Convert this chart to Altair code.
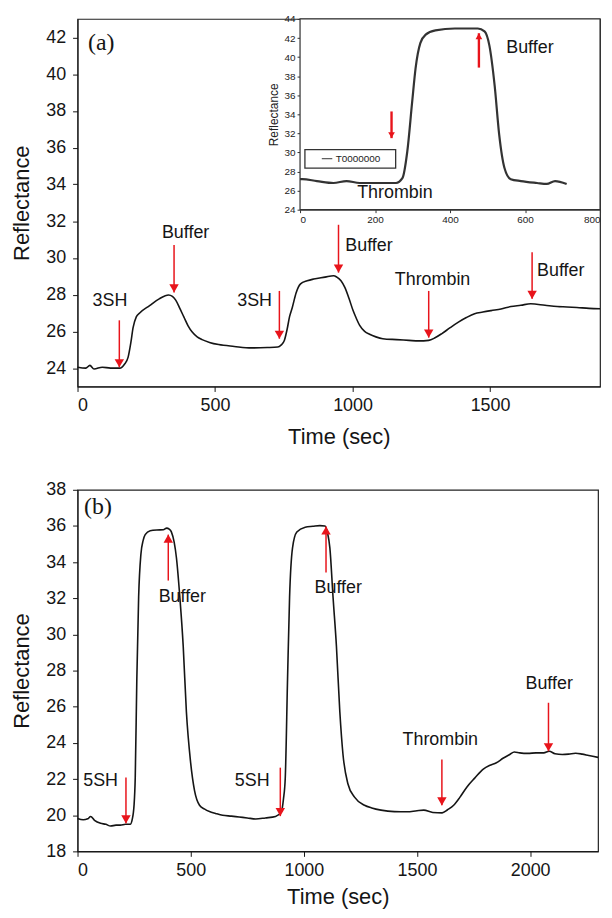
import altair as alt
import pandas as pd

FONT = "Liberation Sans"
RED = "#e8141b"
INK = "#151515"

# ---------------- Panel (a): main trace ----------------
a_time = [0, 30, 45, 60, 90, 120, 154, 170, 184, 194, 202, 214, 226, 262, 297, 331, 345,
          357, 372, 387, 402, 417, 435, 453, 480, 513, 570, 632, 690, 728, 740, 752, 762,
          771, 781, 795, 811, 835, 859, 900, 931, 943, 958, 972, 987, 1002, 1014, 1026,
          1044, 1062, 1085, 1110, 1160, 1205, 1240, 1277, 1300, 1325, 1355, 1385, 1414,
          1444, 1474, 1504, 1540, 1576, 1612, 1648, 1700, 1744, 1780, 1816, 1860, 1900]
a_refl = [24.05, 24.0, 24.15, 23.95, 24.05, 24.0, 24.0, 24.2, 24.6, 25.4, 26.2, 26.8, 27.0,
          27.4, 27.77, 27.98, 27.9, 27.7, 27.25, 26.77, 26.3, 25.96, 25.7, 25.55, 25.4,
          25.28, 25.18, 25.1, 25.12, 25.15, 25.25, 25.5, 26.1, 26.8, 27.3, 28.1, 28.58,
          28.75, 28.85, 28.95, 29.03, 28.95, 28.75, 28.39, 27.8, 27.13, 26.7, 26.32, 26.0,
          25.84, 25.7, 25.6, 25.55, 25.51, 25.48, 25.51, 25.65, 25.88, 26.2, 26.5, 26.75,
          26.96, 27.05, 27.13, 27.22, 27.35, 27.42, 27.5, 27.42, 27.35, 27.33, 27.3, 27.25,
          27.23]

a_arrow_x = [152, 351, 734, 949, 1277, 1653]
a_arrow_tail = [26.6, 30.7, 28.2, 31.8, 28.2, 30.3]
a_arrow_tip = [24.05, 28.12, 25.6, 29.2, 25.66, 27.77]
a_arrow_dir = ["down", "down", "down", "down", "down", "down"]
a_label_text = ["3SH", "Buffer", "3SH", "Buffer", "Thrombin", "Buffer"]
a_label_x = [118, 393, 644, 1060, 1291, 1757]
a_label_y = [27.67, 31.36, 27.67, 30.64, 28.8, 29.3]
a_panel_tag = ["(a)"]
a_tag_x = [38]
a_tag_y = [41.7]

# ---------------- Panel (a): inset ----------------
in_time = [0, 6, 45, 89, 124, 159, 203, 256, 273, 286, 299, 308, 321, 335, 361, 413,
           474, 492, 505, 519, 531, 545, 562, 589, 632, 658, 680, 711]
in_refl = [27.2, 27.2, 27.0, 26.8, 27.0, 26.8, 26.8, 26.8, 27.3, 30.1, 35.3, 38.8, 41.5,
           42.35, 42.8, 43.0, 43.0, 42.7, 41.2, 37.0, 31.9, 28.4, 27.2, 27.0, 26.8, 26.7,
           27.0, 26.7]
in_arrow_x = [244, 477]
in_arrow_tail = [34.3, 38.9]
in_arrow_tip = [31.5, 42.5]
in_arrow_dir = ["down", "up"]
in_label_text = ["Thrombin", "Buffer"]
in_label_x = [253, 613]
in_label_y = [25.7, 41.0]
in_frame_x = [0, 800]
in_frame_y = [24, 44]
in_legend_name = ["T0000000"]
in_legend_box_x = [13, 255]
in_legend_box_y = [28.35, 30.3]
in_legend_line_x = [58, 86]
in_legend_y = [29.35]
in_legend_text_x = [95]

# ---------------- Panel (b) ----------------
b_time = [0, 25, 45, 58, 75, 102, 125, 146, 170, 189, 212, 233, 241, 250, 255, 262, 270,
          280, 290, 299, 321, 350, 379, 394, 405, 415, 427, 437, 452, 467, 481, 499, 517,
          539, 560, 583, 610, 641, 680, 714, 750, 787, 830, 875, 901, 910, 918, 928, 937,
          950, 969, 1006, 1040, 1071, 1093, 1105, 1115, 1129, 1144, 1159, 1173, 1195, 1224,
          1268, 1300, 1341, 1400, 1457, 1500, 1530, 1570, 1611, 1635, 1662, 1690, 1720,
          1755, 1793, 1820, 1851, 1880, 1910, 1930, 1954, 1990, 2026, 2060, 2084, 2110,
          2142, 2170, 2201, 2230, 2259, 2300]
b_refl = [19.82, 19.75, 19.8, 19.93, 19.72, 19.55, 19.5, 19.4, 19.45, 19.45, 19.5, 19.5,
          19.73, 20.6, 22.09, 27.53, 32.07, 34.43, 35.2, 35.52, 35.74, 35.78, 35.79, 35.88,
          35.82, 35.66, 35.1, 34.24, 32.07, 29.35, 25.72, 23.0, 21.36, 20.55, 20.35, 20.2,
          20.1, 20.0, 19.95, 19.9, 19.85, 19.79, 19.85, 19.93, 20.2, 20.9, 22.09, 27.53,
          32.07, 34.79, 35.66, 35.93, 35.98, 36.02, 36.0, 35.6, 34.79, 32.07, 29.35, 25.72,
          23.36, 21.73, 21.0, 20.55, 20.4, 20.28, 20.2, 20.19, 20.25, 20.28, 20.15, 20.13,
          20.3, 20.55, 21.0, 21.55, 22.05, 22.55, 22.75, 22.9, 23.15, 23.36, 23.5, 23.45,
          23.42, 23.45, 23.45, 23.54, 23.4, 23.36, 23.38, 23.43, 23.38, 23.3, 23.2]

b_arrow_x = [214, 401, 896, 1098, 1610, 2081]
b_arrow_tail = [22.09, 32.98, 22.63, 33.43, 23.08, 26.22]
b_arrow_tip = [19.55, 35.52, 19.95, 35.97, 20.55, 23.54]
b_arrow_dir = ["down", "up", "down", "up", "down", "down"]
b_label_text = ["5SH", "Buffer", "5SH", "Buffer", "Thrombin", "Buffer"]
b_label_x = [102, 463, 772, 1152, 1603, 2084]
b_label_y = [21.91, 32.07, 21.91, 32.58, 24.17, 27.26]
b_panel_tag = ["(b)"]
b_tag_x = [29]
b_tag_y = [37.06]

# ---------------- tables ----------------
a_line = pd.DataFrame({"t": a_time, "v": a_refl})
a_arrows = pd.DataFrame({"t": a_arrow_x, "v": a_arrow_tail, "tip": a_arrow_tip, "dir": a_arrow_dir})
a_labels = pd.DataFrame({"t": a_label_x, "v": a_label_y, "label": a_label_text})
a_tag = pd.DataFrame({"t": a_tag_x, "v": a_tag_y, "label": a_panel_tag})

in_line = pd.DataFrame({"t": in_time, "v": in_refl})
in_arrows = pd.DataFrame({"t": in_arrow_x, "v": in_arrow_tail, "tip": in_arrow_tip, "dir": in_arrow_dir})
in_labels = pd.DataFrame({"t": in_label_x, "v": in_label_y, "label": in_label_text})
in_frame = pd.DataFrame({"t": [in_frame_x[0]], "t2": [in_frame_x[1]],
                         "v": [in_frame_y[0]], "v2": [in_frame_y[1]]})
in_legbox = pd.DataFrame({"t": [in_legend_box_x[0]], "t2": [in_legend_box_x[1]],
                          "v": [in_legend_box_y[0]], "v2": [in_legend_box_y[1]]})
in_legline = pd.DataFrame({"t": [in_legend_line_x[0]], "t2": [in_legend_line_x[1]], "v": in_legend_y})
in_legtext = pd.DataFrame({"t": in_legend_text_x, "v": in_legend_y, "label": in_legend_name})

b_line = pd.DataFrame({"t": b_time, "v": b_refl})
b_arrows = pd.DataFrame({"t": b_arrow_x, "v": b_arrow_tail, "tip": b_arrow_tip, "dir": b_arrow_dir})
b_labels = pd.DataFrame({"t": b_label_x, "v": b_label_y, "label": b_label_text})
b_tag = pd.DataFrame({"t": b_tag_x, "v": b_tag_y, "label": b_panel_tag})

# ---------------- encodings ----------------
def make_xy(xdomain, xticks, ydomain, yticks, xrange=None, yrange=None, xaxis_extra=None, yaxis_extra=None,
            xtitle="Time (sec)", ytitle="Reflectance"):
    xs = dict(domain=xdomain, nice=False, zero=False)
    ys = dict(domain=ydomain, nice=False, zero=False)
    if xrange is not None:
        xs["range"] = xrange
    if yrange is not None:
        ys["range"] = yrange
    xa = dict(values=xticks, format="d", orient="bottom", title=xtitle)
    ya = dict(values=yticks, format="d", orient="left", title=ytitle)
    if xaxis_extra:
        xa.update(xaxis_extra)
    if yaxis_extra:
        ya.update(yaxis_extra)

    def X(f):
        return alt.X(f, type="quantitative", scale=alt.Scale(**xs), axis=alt.Axis(**xa))

    def Y(f):
        return alt.Y(f, type="quantitative", scale=alt.Scale(**ys), axis=alt.Axis(**ya))
    return X, Y


def arrows(df, X, Y, width, head, off):
    rule = alt.Chart(df).mark_rule(color=RED, strokeWidth=width).encode(
        x=X("t"), y=Y("v"), y2=alt.Y2("tip"))
    down = alt.Chart(df).transform_filter(alt.datum.dir == "down").mark_point(
        shape="triangle-down", filled=True, size=head, color=RED, opacity=1, yOffset=-off
    ).encode(x=X("t"), y=Y("tip"))
    up = alt.Chart(df).transform_filter(alt.datum.dir == "up").mark_point(
        shape="triangle-up", filled=True, size=head, color=RED, opacity=1, yOffset=off
    ).encode(x=X("t"), y=Y("tip"))
    return [rule, down, up]


def texts(df, X, Y, size, font=FONT):
    return alt.Chart(df).mark_text(font=font, fontSize=size, color=INK, align="center",
                                   baseline="middle").encode(
        x=X("t"), y=Y("v"), text="label:N")


# ---- panel (a) main ----
AW, AH = 526, 370
Xa, Ya = make_xy([0, 1900], [0, 500, 1000, 1500], [23, 43], list(range(24, 43, 2)),
                 xaxis_extra=dict(titlePadding=12))
a_layers = [alt.Chart(a_line).mark_line(color=INK, strokeWidth=1.6, interpolate="monotone").encode(
    x=Xa("t"), y=Ya("v"))]
a_layers += arrows(a_arrows, Xa, Ya, 1.5, 90, 4)
a_layers.append(texts(a_labels, Xa, Ya, 18))
a_layers.append(alt.Chart(a_tag).mark_text(font="Liberation Serif", fontSize=24, color=INK,
                                           align="left", baseline="middle").encode(
    x=Xa("t"), y=Ya("v"), text="label:N"))
a_main = alt.layer(*a_layers)

# ---- panel (a) inset ----
IN_LEFT, IN_BOTTOM = 224, 192
inset_axis_common = dict(labelFontSize=10, tickSize=3, labelPadding=2, titleFontSize=12,
                         domainColor="#333", tickColor="#333", labelColor="#222", titleColor="#222")
Xi, Yi = make_xy([0, 800], [0, 200, 400, 600, 800], [24, 44], list(range(24, 45, 2)),
                 xrange=[IN_LEFT, AW], yrange=[IN_BOTTOM, 0],
                 xaxis_extra=dict(offset=-(AH - IN_BOTTOM), labelFlush=True, **inset_axis_common),
                 yaxis_extra=dict(offset=-IN_LEFT, titlePadding=4, **inset_axis_common),
                 xtitle=None, ytitle="Reflectance")
in_layers = [
    alt.Chart(in_frame).mark_rect(fill="white", stroke="#333", strokeWidth=1.2).encode(
        x=Xi("t"), x2=alt.X2("t2"), y=Yi("v"), y2=alt.Y2("v2")),
    alt.Chart(in_line).mark_line(color="#333", strokeWidth=2.2, interpolate="monotone").encode(
        x=Xi("t"), y=Yi("v")),
    alt.Chart(in_legbox).mark_rect(fill="white", stroke="#333", strokeWidth=1.3).encode(
        x=Xi("t"), x2=alt.X2("t2"), y=Yi("v"), y2=alt.Y2("v2")),
    alt.Chart(in_legline).mark_rule(color="#555", strokeWidth=1.2).encode(
        x=Xi("t"), x2=alt.X2("t2"), y=Yi("v")),
    alt.Chart(in_legtext).mark_text(font=FONT, fontSize=10, color="#222", align="left",
                                    baseline="middle").encode(x=Xi("t"), y=Yi("v"), text="label:N"),
]
in_layers += arrows(in_arrows, Xi, Yi, 2.4, 45, 3)
in_layers.append(texts(in_labels, Xi, Yi, 18))
a_inset = alt.layer(*in_layers)

panel_a = alt.layer(a_main, a_inset).resolve_scale(x="independent", y="independent").properties(
    width=AW, height=AH)

# ---- panel (b) ----
BW, BH = 524, 364
Xb, Yb = make_xy([0, 2300], [0, 500, 1000, 1500, 2000], [18, 38], list(range(18, 39, 2)),
                 xaxis_extra=dict(titlePadding=7))
b_layers = [alt.Chart(b_line).mark_line(color=INK, strokeWidth=1.6, interpolate="monotone").encode(
    x=Xb("t"), y=Yb("v"))]
b_layers += arrows(b_arrows, Xb, Yb, 1.5, 90, 4)
b_layers.append(texts(b_labels, Xb, Yb, 18))
b_layers.append(alt.Chart(b_tag).mark_text(font="Liberation Serif", fontSize=24, color=INK,
                                           align="left", baseline="middle").encode(
    x=Xb("t"), y=Yb("v"), text="label:N"))
panel_b = alt.layer(*b_layers).properties(width=BW, height=BH)

chart = alt.vconcat(panel_a, panel_b, spacing=32).properties(
    padding={"left": 2, "top": 2, "right": 0, "bottom": 0}
).configure_view(stroke="#222", strokeWidth=1.2).configure_axis(
    labelFont=FONT, titleFont=FONT, labelFontSize=18, titleFontSize=22,
    labelColor=INK, titleColor=INK, tickColor=INK, domainColor=INK,
    grid=False, tickSize=5, titleFontWeight="normal"
).configure_axisX(labelPadding=5, titlePadding=11).configure_axisY(labelPadding=7, titlePadding=12)

chart.save("out.html", embed_options={"renderer": "svg", "actions": False})
